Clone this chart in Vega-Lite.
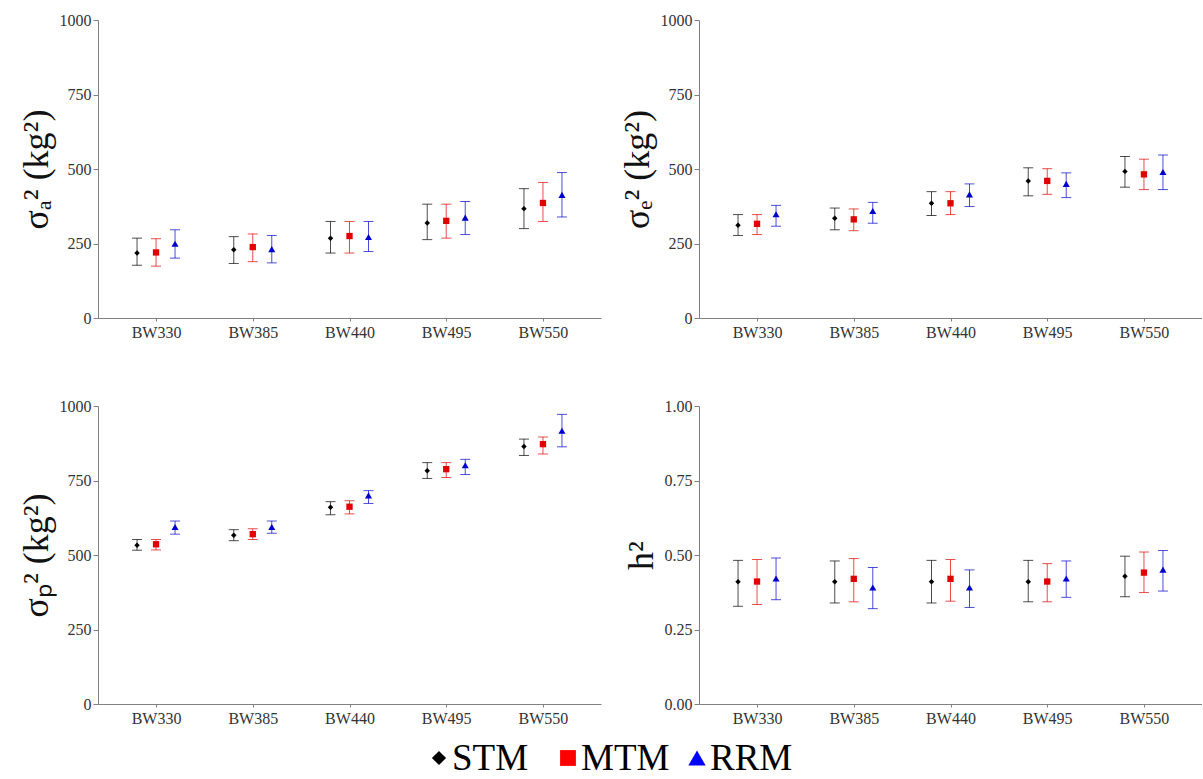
{
  "$schema": "https://vega.github.io/schema/vega-lite/v6.json",
  "background": "white",
  "padding": {"left": 18, "top": 12, "right": 0, "bottom": 0},
  "datasets": {
    "est": [
      {"panel":"a","bw":"BW330","model":"STM","est":218,"lo":177,"hi":268},
      {"panel":"a","bw":"BW330","model":"MTM","est":220,"lo":174,"hi":266},
      {"panel":"a","bw":"BW330","model":"RRM","est":249,"lo":201,"hi":296},
      {"panel":"a","bw":"BW385","model":"STM","est":229,"lo":183,"hi":273},
      {"panel":"a","bw":"BW385","model":"MTM","est":238,"lo":189,"hi":282},
      {"panel":"a","bw":"BW385","model":"RRM","est":231,"lo":185,"hi":277},
      {"panel":"a","bw":"BW440","model":"STM","est":268,"lo":218,"hi":324},
      {"panel":"a","bw":"BW440","model":"MTM","est":275,"lo":218,"hi":324},
      {"panel":"a","bw":"BW440","model":"RRM","est":272,"lo":223,"hi":324},
      {"panel":"a","bw":"BW495","model":"STM","est":319,"lo":263,"hi":382},
      {"panel":"a","bw":"BW495","model":"MTM","est":326,"lo":268,"hi":382},
      {"panel":"a","bw":"BW495","model":"RRM","est":337,"lo":280,"hi":391},
      {"panel":"a","bw":"BW550","model":"STM","est":367,"lo":300,"hi":434},
      {"panel":"a","bw":"BW550","model":"MTM","est":386,"lo":324,"hi":455},
      {"panel":"a","bw":"BW550","model":"RRM","est":413,"lo":339,"hi":488},
      {"panel":"e","bw":"BW330","model":"STM","est":311,"lo":277,"hi":347},
      {"panel":"e","bw":"BW330","model":"MTM","est":316,"lo":280,"hi":347},
      {"panel":"e","bw":"BW330","model":"RRM","est":348,"lo":308,"hi":378},
      {"panel":"e","bw":"BW385","model":"STM","est":335,"lo":296,"hi":369},
      {"panel":"e","bw":"BW385","model":"MTM","est":331,"lo":293,"hi":366},
      {"panel":"e","bw":"BW385","model":"RRM","est":359,"lo":318,"hi":388},
      {"panel":"e","bw":"BW440","model":"STM","est":385,"lo":344,"hi":424},
      {"panel":"e","bw":"BW440","model":"MTM","est":385,"lo":347,"hi":424},
      {"panel":"e","bw":"BW440","model":"RRM","est":415,"lo":374,"hi":450},
      {"panel":"e","bw":"BW495","model":"STM","est":460,"lo":410,"hi":504},
      {"panel":"e","bw":"BW495","model":"MTM","est":460,"lo":415,"hi":501},
      {"panel":"e","bw":"BW495","model":"RRM","est":450,"lo":404,"hi":487},
      {"panel":"e","bw":"BW550","model":"STM","est":492,"lo":439,"hi":542},
      {"panel":"e","bw":"BW550","model":"MTM","est":482,"lo":431,"hi":533},
      {"panel":"e","bw":"BW550","model":"RRM","est":490,"lo":431,"hi":547},
      {"panel":"p","bw":"BW330","model":"STM","est":533,"lo":516,"hi":552},
      {"panel":"p","bw":"BW330","model":"MTM","est":536,"lo":517,"hi":552},
      {"panel":"p","bw":"BW330","model":"RRM","est":594,"lo":570,"hi":614},
      {"panel":"p","bw":"BW385","model":"STM","est":566,"lo":548,"hi":585},
      {"panel":"p","bw":"BW385","model":"MTM","est":570,"lo":552,"hi":588},
      {"panel":"p","bw":"BW385","model":"RRM","est":594,"lo":573,"hi":614},
      {"panel":"p","bw":"BW440","model":"STM","est":660,"lo":635,"hi":679},
      {"panel":"p","bw":"BW440","model":"MTM","est":662,"lo":638,"hi":682},
      {"panel":"p","bw":"BW440","model":"RRM","est":700,"lo":673,"hi":716},
      {"panel":"p","bw":"BW495","model":"STM","est":783,"lo":757,"hi":810},
      {"panel":"p","bw":"BW495","model":"MTM","est":788,"lo":760,"hi":810},
      {"panel":"p","bw":"BW495","model":"RRM","est":801,"lo":770,"hi":821},
      {"panel":"p","bw":"BW550","model":"STM","est":864,"lo":834,"hi":889},
      {"panel":"p","bw":"BW550","model":"MTM","est":872,"lo":839,"hi":896},
      {"panel":"p","bw":"BW550","model":"RRM","est":917,"lo":863,"hi":972},
      {"panel":"h","bw":"BW330","model":"STM","est":0.410,"lo":0.328,"hi":0.482},
      {"panel":"h","bw":"BW330","model":"MTM","est":0.411,"lo":0.334,"hi":0.485},
      {"panel":"h","bw":"BW330","model":"RRM","est":0.421,"lo":0.350,"hi":0.490},
      {"panel":"h","bw":"BW385","model":"STM","est":0.410,"lo":0.339,"hi":0.480},
      {"panel":"h","bw":"BW385","model":"MTM","est":0.420,"lo":0.343,"hi":0.488},
      {"panel":"h","bw":"BW385","model":"RRM","est":0.391,"lo":0.320,"hi":0.458},
      {"panel":"h","bw":"BW440","model":"STM","est":0.410,"lo":0.339,"hi":0.482},
      {"panel":"h","bw":"BW440","model":"MTM","est":0.420,"lo":0.345,"hi":0.485},
      {"panel":"h","bw":"BW440","model":"RRM","est":0.391,"lo":0.324,"hi":0.450},
      {"panel":"h","bw":"BW495","model":"STM","est":0.410,"lo":0.343,"hi":0.482},
      {"panel":"h","bw":"BW495","model":"MTM","est":0.411,"lo":0.343,"hi":0.471},
      {"panel":"h","bw":"BW495","model":"RRM","est":0.421,"lo":0.358,"hi":0.480},
      {"panel":"h","bw":"BW550","model":"STM","est":0.429,"lo":0.360,"hi":0.496},
      {"panel":"h","bw":"BW550","model":"MTM","est":0.441,"lo":0.374,"hi":0.510},
      {"panel":"h","bw":"BW550","model":"RRM","est":0.451,"lo":0.379,"hi":0.515}
    ],
    "key": [
      {"model": "STM"},
      {"model": "MTM"},
      {"model": "RRM"}
    ]
  },
  "spacing": 10,
  "center": true,
  "resolve": {"scale": {"x": "independent", "y": "independent", "color": "independent", "shape": "independent", "size": "independent"}},
  "vconcat": [
    {
      "data": {"name": "est"},
      "columns": 2,
      "spacing": {"row": 58, "column": 18},
      "resolve": {"scale": {"y": "independent", "x": "independent", "xOffset": "independent", "color": "shared", "shape": "shared", "size": "shared"}},
      "concat": [
        {
          "width": 503, "height": 298,
          "transform": [{"filter": "datum.panel === 'a'"}],
          "encoding": {
            "x": {"field": "bw", "type": "nominal", "scale": {"type": "point", "padding": 0.6}},
            "xOffset": {"field": "model", "type": "nominal", "scale": {"type": "point", "domain": ["STM","MTM","RRM"], "range": [-19, 19], "padding": 0}},
            "color": {"field": "model", "type": "nominal", "scale": {"domain": ["STM","MTM","RRM"], "range": ["#000000","#E00000","#0000CC"]}, "legend": null}
          },
          "layer": [
            {"mark": {"type": "rule", "opacity": 0.7}, "encoding": {"y": {"field": "lo", "type": "quantitative", "scale": {"domain": [0, 1000], "nice": false}, "axis": {"title": "σₐ² (kg²)", "values": [0,250,500,750,1000], "format": "d"}}, "y2": {"field": "hi"}}},
            {"mark": {"type": "tick", "opacity": 0.7, "size": 10, "thickness": 1}, "encoding": {"y": {"field": "lo", "type": "quantitative", "axis": {"title": "σₐ² (kg²)", "values": [0,250,500,750,1000], "format": "d"}}}},
            {"mark": {"type": "tick", "opacity": 0.7, "size": 10, "thickness": 1}, "encoding": {"y": {"field": "hi", "type": "quantitative", "axis": {"title": "σₐ² (kg²)", "values": [0,250,500,750,1000], "format": "d"}}}},
            {"mark": {"type": "point", "filled": true, "opacity": 1}, "encoding": {
              "y": {"field": "est", "type": "quantitative", "axis": {"title": "σₐ² (kg²)", "values": [0,250,500,750,1000], "format": "d"}},
              "shape": {"field": "model", "type": "nominal", "scale": {"domain": ["STM","MTM","RRM"], "range": ["diamond","square","triangle-up"]}, "legend": null},
              "size": {"field": "model", "type": "nominal", "scale": {"domain": ["STM","MTM","RRM"], "range": [30, 50, 55]}, "legend": null}
            }}
          ]
        },
        {
          "width": 503, "height": 298,
          "transform": [{"filter": "datum.panel === 'e'"}],
          "encoding": {
            "x": {"field": "bw", "type": "nominal", "scale": {"type": "point", "padding": 0.6}},
            "xOffset": {"field": "model", "type": "nominal", "scale": {"type": "point", "domain": ["STM","MTM","RRM"], "range": [-19, 19], "padding": 0}},
            "color": {"field": "model", "type": "nominal", "legend": null}
          },
          "layer": [
            {"mark": {"type": "rule", "opacity": 0.7}, "encoding": {"y": {"field": "lo", "type": "quantitative", "scale": {"domain": [0, 1000], "nice": false}, "axis": {"title": "σₑ² (kg²)", "values": [0,250,500,750,1000], "format": "d"}}, "y2": {"field": "hi"}}},
            {"mark": {"type": "tick", "opacity": 0.7, "size": 10, "thickness": 1}, "encoding": {"y": {"field": "lo", "type": "quantitative", "axis": {"title": "σₑ² (kg²)", "values": [0,250,500,750,1000], "format": "d"}}}},
            {"mark": {"type": "tick", "opacity": 0.7, "size": 10, "thickness": 1}, "encoding": {"y": {"field": "hi", "type": "quantitative", "axis": {"title": "σₑ² (kg²)", "values": [0,250,500,750,1000], "format": "d"}}}},
            {"mark": {"type": "point", "filled": true, "opacity": 1}, "encoding": {
              "y": {"field": "est", "type": "quantitative", "axis": {"title": "σₑ² (kg²)", "values": [0,250,500,750,1000], "format": "d"}},
              "shape": {"field": "model", "type": "nominal", "legend": null},
              "size": {"field": "model", "type": "nominal", "legend": null}
            }}
          ]
        },
        {
          "width": 503, "height": 298,
          "transform": [{"filter": "datum.panel === 'p'"}],
          "encoding": {
            "x": {"field": "bw", "type": "nominal", "scale": {"type": "point", "padding": 0.6}},
            "xOffset": {"field": "model", "type": "nominal", "scale": {"type": "point", "domain": ["STM","MTM","RRM"], "range": [-19, 19], "padding": 0}},
            "color": {"field": "model", "type": "nominal", "legend": null}
          },
          "layer": [
            {"mark": {"type": "rule", "opacity": 0.7}, "encoding": {"y": {"field": "lo", "type": "quantitative", "scale": {"domain": [0, 1000], "nice": false}, "axis": {"title": "σₚ² (kg²)", "values": [0,250,500,750,1000], "format": "d"}}, "y2": {"field": "hi"}}},
            {"mark": {"type": "tick", "opacity": 0.7, "size": 10, "thickness": 1}, "encoding": {"y": {"field": "lo", "type": "quantitative", "axis": {"title": "σₚ² (kg²)", "values": [0,250,500,750,1000], "format": "d"}}}},
            {"mark": {"type": "tick", "opacity": 0.7, "size": 10, "thickness": 1}, "encoding": {"y": {"field": "hi", "type": "quantitative", "axis": {"title": "σₚ² (kg²)", "values": [0,250,500,750,1000], "format": "d"}}}},
            {"mark": {"type": "point", "filled": true, "opacity": 1}, "encoding": {
              "y": {"field": "est", "type": "quantitative", "axis": {"title": "σₚ² (kg²)", "values": [0,250,500,750,1000], "format": "d"}},
              "shape": {"field": "model", "type": "nominal", "legend": null},
              "size": {"field": "model", "type": "nominal", "legend": null}
            }}
          ]
        },
        {
          "width": 503, "height": 298,
          "transform": [{"filter": "datum.panel === 'h'"}],
          "encoding": {
            "x": {"field": "bw", "type": "nominal", "scale": {"type": "point", "padding": 0.6}},
            "xOffset": {"field": "model", "type": "nominal", "scale": {"type": "point", "domain": ["STM","MTM","RRM"], "range": [-19, 19], "padding": 0}},
            "color": {"field": "model", "type": "nominal", "legend": null}
          },
          "layer": [
            {"mark": {"type": "rule", "opacity": 0.7}, "encoding": {"y": {"field": "lo", "type": "quantitative", "scale": {"domain": [0, 1], "nice": false}, "axis": {"title": "h²", "values": [0,0.25,0.5,0.75,1], "format": ".2f"}}, "y2": {"field": "hi"}}},
            {"mark": {"type": "tick", "opacity": 0.7, "size": 10, "thickness": 1}, "encoding": {"y": {"field": "lo", "type": "quantitative", "axis": {"title": "h²", "values": [0,0.25,0.5,0.75,1], "format": ".2f"}}}},
            {"mark": {"type": "tick", "opacity": 0.7, "size": 10, "thickness": 1}, "encoding": {"y": {"field": "hi", "type": "quantitative", "axis": {"title": "h²", "values": [0,0.25,0.5,0.75,1], "format": ".2f"}}}},
            {"mark": {"type": "point", "filled": true, "opacity": 1}, "encoding": {
              "y": {"field": "est", "type": "quantitative", "axis": {"title": "h²", "values": [0,0.25,0.5,0.75,1], "format": ".2f"}},
              "shape": {"field": "model", "type": "nominal", "legend": null},
              "size": {"field": "model", "type": "nominal", "legend": null}
            }}
          ]
        }
      ]
    },
    {
      "data": {"name": "key"},
      "width": 500, "height": 44,
      "encoding": {
        "x": {"field": "model", "type": "nominal", "scale": {"type": "point", "domain": ["STM","MTM","RRM"], "range": [39, 297], "padding": 0}, "axis": null}
      },
      "layer": [
        {"mark": {"type": "point", "filled": true, "opacity": 1}, "encoding": {
          "shape": {"field": "model", "type": "nominal", "scale": {"domain": ["STM","MTM","RRM"], "range": ["diamond","square","triangle-up"]}, "legend": null},
          "color": {"field": "model", "type": "nominal", "scale": {"domain": ["STM","MTM","RRM"], "range": ["#000000","#FF0000","#0000FF"]}, "legend": null},
          "size": {"field": "model", "type": "nominal", "scale": {"domain": ["STM","MTM","RRM"], "range": [200, 300, 440]}, "legend": null}
        }},
        {"mark": {"type": "text", "align": "left", "baseline": "middle", "dx": 13, "dy": 1, "font": "Liberation Serif, Times New Roman, serif", "fontSize": 37, "color": "#000000"}, "encoding": {
          "text": {"field": "model", "type": "nominal"}
        }}
      ]
    }
  ],
  "config": {
    "view": {"stroke": null},
    "font": "Liberation Serif, Times New Roman, serif",
    "axis": {"labelFont": "Liberation Serif, Times New Roman, serif", "labelFontSize": 16, "labelColor": "#333333", "titleFont": "Liberation Serif, Times New Roman, serif", "titleFontWeight": "normal", "titleColor": "#111111", "domainColor": "#808080", "tickColor": "#808080", "grid": false},
    "axisX": {"title": null, "tickSize": 3, "labelPadding": 3, "labelAngle": 0},
    "axisY": {"tickSize": 5, "labelPadding": 2, "titleFontSize": 36, "titlePadding": 4}
  }
}
